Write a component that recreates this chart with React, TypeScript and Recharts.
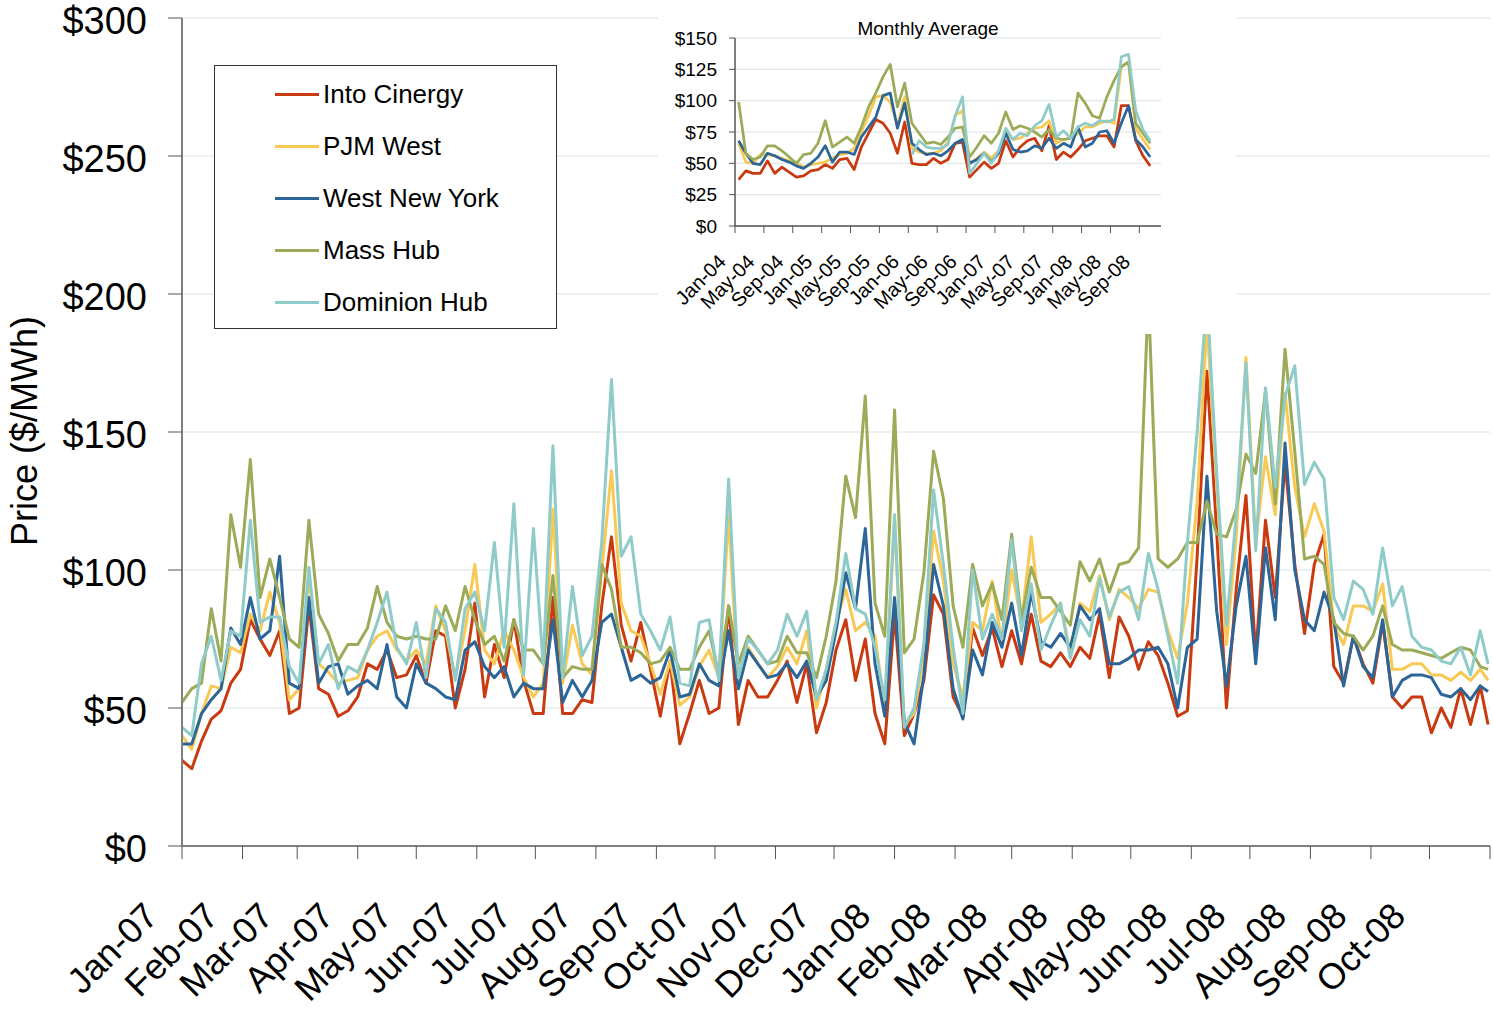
import React from 'react';
import { LineChart, Line, XAxis, YAxis, CartesianGrid } from 'recharts';

const FONT = '"Liberation Sans", Arial, Helvetica, sans-serif';

const seriesNames = ['Into Cinergy', 'PJM West', 'West New York', 'Mass Hub', 'Dominion Hub'];
const seriesKeys = ['cin', 'pjm', 'wny', 'mass', 'dom'];
const seriesColors = ['#C93A10', '#F8C954', '#2C6597', '#9BAB57', '#8FCBC8'];

// daily chart, sampled days since 1-Jan-07
const sampleDays = [0,5,10,15,20,25,30,35,40,45,50,55,60,65,70,75,80,85,90,95,100,105,110,115,120,125,130,135,140,145,150,155,160,165,170,175,180,185,190,195,200,205,210,215,220,225,230,235,240,245,250,255,260,265,270,275,280,285,290,295,300,305,310,315,320,325,330,335,340,345,350,355,360,365,370,375,380,385,390,395,400,405,410,415,420,425,430,435,440,445,450,455,460,465,470,475,480,485,490,495,500,505,510,515,520,525,530,535,540,545,550,555,560,565,570,575,580,585,590,595,600,605,610,615,620,625,630,635,640,645,650,655,660,665,669];

const cinergy = [31,28,38,46,49,59,64,82,75,69,78,48,50,87,57,55,47,49,54,66,64,71,61,62,69,59,78,76,50,64,88,54,73,61,82,60,48,48,90,48,48,53,52,87,112,80,67,81,64,47,67,37,48,60,48,50,87,44,60,54,54,60,67,52,66,41,52,71,82,60,75,48,37,84,40,48,60,91,84,54,47,79,69,79,65,78,66,84,67,65,70,65,72,68,84,61,83,76,64,74,69,59,47,49,105,172,114,50,93,127,69,118,90,139,102,77,102,113,65,59,76,66,59,81,54,50,54,54,41,50,43,57,44,58,44];
const pjmWest = [40,35,48,58,57,72,70,84,78,92,81,53,57,98,66,63,59,60,61,71,76,78,71,67,71,66,87,78,61,78,102,71,66,78,71,61,54,59,122,59,80,66,62,100,136,88,78,76,66,55,67,51,54,65,71,61,120,57,72,66,61,65,72,66,78,50,64,81,93,78,81,76,50,118,44,48,69,114,96,66,54,81,78,96,73,100,81,112,81,84,88,70,88,85,98,82,93,90,86,93,92,78,68,88,125,190,131,73,112,177,110,141,120,164,130,112,124,114,80,73,87,87,85,95,64,64,66,66,62,62,60,63,60,64,60];
const westNewYork = [37,37,48,53,57,79,73,90,75,78,105,59,57,90,59,65,66,55,58,60,57,73,54,50,66,59,57,54,53,71,74,65,61,65,54,59,57,57,82,52,60,54,60,81,84,72,60,62,59,61,71,54,55,66,60,58,78,57,71,66,61,62,66,61,67,54,60,78,99,86,115,66,47,90,45,37,62,102,87,57,46,71,62,81,72,88,69,92,74,72,77,72,87,82,86,66,66,68,71,71,72,66,50,72,75,134,85,58,87,105,66,108,82,146,100,82,78,92,82,58,76,65,61,82,54,60,62,62,61,55,54,57,53,58,56];
const massHub = [52,57,59,86,67,120,101,140,90,104,90,75,72,118,84,77,67,73,73,79,94,81,76,75,76,75,75,87,78,94,82,73,76,67,82,71,71,66,98,61,65,64,64,102,93,72,72,70,66,67,72,64,64,72,78,62,87,66,76,71,66,67,76,70,70,61,76,96,134,119,163,88,76,158,70,75,99,143,126,87,72,102,87,95,82,113,82,101,90,90,85,80,103,96,104,92,102,103,108,200,104,101,104,110,110,125,113,112,122,142,135,165,124,180,143,104,105,102,81,77,76,71,76,87,73,71,71,70,69,68,70,72,71,65,64];
const dominionHub = [43,40,66,76,60,78,76,118,81,83,83,65,59,101,66,73,57,65,63,71,81,92,72,66,81,61,86,81,60,86,92,78,110,72,124,62,115,66,145,61,94,69,76,110,169,105,112,84,78,71,83,59,58,81,82,60,133,61,75,71,66,71,84,76,85,53,64,81,106,86,84,72,53,120,43,50,73,129,102,72,48,100,75,84,75,111,78,95,71,80,88,68,82,76,97,83,92,94,82,106,93,76,59,110,150,200,135,80,120,175,107,166,130,163,174,131,139,133,90,82,96,93,84,108,87,94,76,72,71,67,66,72,62,78,66];

const monthStartDays = [0,31,59,90,120,151,181,212,243,273,304,334,365,396,425,456,486,517,547,578,609,639,670];
const monthLabels = ['Jan-07','Feb-07','Mar-07','Apr-07','May-07','Jun-07','Jul-07','Aug-07','Sep-07','Oct-07','Nov-07','Dec-07','Jan-08','Feb-08','Mar-08','Apr-08','May-08','Jun-08','Jul-08','Aug-08','Sep-08','Oct-08'];
const priceTicks = [0,50,100,150,200,250,300];

// monthly averages, Jan-04 .. Oct-08
const insetCinergy = [37,44,42,42,52,42,47,43,39,40,44,45,49,46,53,54,45,63,74,85,82,74,58,83,50,49,49,54,50,53,66,67,39,45,51,46,50,68,55,63,68,70,60,80,53,59,55,61,68,70,72,72,63,96,96,68,56,48];
const insetPjm = [66,51,50,57,57,56,54,52,50,47,49,50,51,54,57,58,62,75,88,103,104,99,80,103,62,59,58,58,60,67,88,92,50,54,59,54,60,75,69,70,74,78,79,84,66,69,70,74,79,79,82,84,82,127,131,78,69,61];
const insetWestNY = [68,58,50,49,58,56,53,51,48,46,50,55,64,51,59,59,57,71,79,87,104,106,78,98,66,61,57,58,56,60,66,69,50,53,58,51,58,74,61,59,60,64,62,70,62,66,63,79,63,66,75,76,66,82,96,69,63,55];
const insetMass = [99,58,53,55,64,64,60,55,50,57,58,66,84,63,67,71,66,79,95,106,119,129,95,114,82,74,66,67,65,71,78,79,55,63,72,66,74,91,77,80,78,75,71,77,70,69,70,106,98,88,86,103,116,127,131,82,74,66];
const insetDominion = [null,null,null,null,null,null,null,null,null,null,null,null,null,null,null,null,null,null,null,null,null,null,null,null,57,68,63,62,62,65,88,103,42,50,58,50,60,78,69,74,72,80,84,97,71,76,70,79,82,80,84,83,85,135,137,92,77,68];
const insetTickMonths = [0,4,8,12,16,20,24,28,32,36,40,44,48,52,56];
const insetTickLabels = ['Jan-04','May-04','Sep-04','Jan-05','May-05','Sep-05','Jan-06','May-06','Sep-06','Jan-07','May-07','Sep-07','Jan-08','May-08','Sep-08'];
const insetPriceTicks = [0,25,50,75,100,125,150];

const mainRows = sampleDays.map((day, i) => ({
  day,
  cin: cinergy[i],
  pjm: pjmWest[i],
  wny: westNewYork[i],
  mass: massHub[i],
  dom: dominionHub[i],
}));

const insetRows = insetCinergy.map((v, i) => ({
  x: i + 0.5,
  cin: v,
  pjm: insetPjm[i],
  wny: insetWestNY[i],
  mass: insetMass[i],
  dom: insetDominion[i],
}));

const MainXTick = (props: any) => {
  const { x, y, payload } = props;
  const idx = monthStartDays.indexOf(payload.value);
  const label = monthLabels[idx];
  if (!label) return null;
  const ax = x - 22;
  const ay = y + 59;
  return (
    <text x={ax} y={ay} transform={`rotate(-45, ${ax}, ${ay})`} textAnchor="end"
      fontSize={36} fontFamily={FONT} fill="#000">{label}</text>
  );
};

const MainYTick = (props: any) => {
  const { x, y, payload } = props;
  return (
    <text x={x} y={y + 2} dy="0.36em" textAnchor="end" fontSize={38} fontFamily={FONT} fill="#000">
      {`$${payload.value}`}
    </text>
  );
};

const InsetXTick = (props: any) => {
  const { x, y, payload } = props;
  const idx = insetTickMonths.indexOf(payload.value);
  const label = insetTickLabels[idx];
  if (!label) return null;
  const ax = x - 8;
  const ay = y + 30;
  return (
    <text x={ax} y={ay} transform={`rotate(-45, ${ax}, ${ay})`} textAnchor="end"
      fontSize={20} fontFamily={FONT} fill="#000">{label}</text>
  );
};

export default function App() {
  return (
    <div style={{ position: 'relative', width: 1493, height: 1010, background: '#fff', fontFamily: FONT }}>
      <style>{`body{margin:0;background:#fff}`}</style>
      <LineChart width={1493} height={1010} data={mainRows} margin={{ top: 18, right: 3, left: 0, bottom: 24 }}>
        <CartesianGrid vertical={false} stroke="#D8E4E3" />
        <XAxis dataKey="day" type="number" domain={[0, 670]} ticks={monthStartDays} interval={0}
          height={140} tickSize={13} tickMargin={0}
          axisLine={{ stroke: '#808080', strokeWidth: 2 }} tickLine={{ stroke: '#555' }}
          tick={(p: any) => <MainXTick {...p} />} />
        <YAxis type="number" domain={[0, 300]} ticks={priceTicks} interval={0} width={182}
          tickSize={14} tickMargin={21}
          axisLine={{ stroke: '#808080', strokeWidth: 2 }} tickLine={{ stroke: '#555' }}
          tick={(p: any) => <MainYTick {...p} />} />
        {seriesKeys.map((k, i) => (
          <Line key={k} dataKey={k} name={seriesNames[i]} stroke={seriesColors[i]} strokeWidth={3}
            dot={false} activeDot={false} isAnimationActive={false} type="linear" strokeLinejoin="round" />
        ))}
      </LineChart>

      <div style={{
        position: 'absolute', left: 25, top: 431, transform: 'translate(-50%, -50%) rotate(-90deg)',
        fontSize: 36, whiteSpace: 'nowrap', color: '#000',
      }}>Price ($/MWh)</div>

      <div style={{
        position: 'absolute', left: 214, top: 65, width: 341, height: 262, background: '#fff',
        border: '1px solid #333',
      }}>
        {seriesNames.map((n, i) => (
          <div key={n} style={{ position: 'absolute', left: 60, top: 28 + i * 52.2 - 18, height: 36, display: 'flex', alignItems: 'center' }}>
            <div style={{ width: 44, height: 3, background: seriesColors[i], marginRight: 4 }} />
            <span style={{ fontSize: 26, color: '#000', whiteSpace: 'nowrap' }}>{n}</span>
          </div>
        ))}
      </div>

      <div style={{ position: 'absolute', left: 658, top: 0, width: 578, height: 334, background: '#fff' }}>
        <LineChart width={578} height={334} data={insetRows} margin={{ top: 38, right: 75, left: 0, bottom: 0 }}>
          <CartesianGrid vertical={false} stroke="#D8E4E3" />
          <XAxis dataKey="x" type="number" domain={[0, 59]} ticks={insetTickMonths} interval={0}
            height={108} tickSize={7} tickMargin={0}
            axisLine={{ stroke: '#555', strokeWidth: 1.5 }} tickLine={{ stroke: '#555' }}
            tick={(p: any) => <InsetXTick {...p} />} />
          <YAxis type="number" domain={[0, 150]} ticks={insetPriceTicks} interval={0} width={77}
            tickSize={6} tickMargin={12} tickFormatter={(v: number) => `$${v}`}
            axisLine={{ stroke: '#555', strokeWidth: 1.5 }} tickLine={{ stroke: '#555' }}
            tick={{ fontSize: 19, fill: '#000', fontFamily: FONT }} />
          {seriesKeys.map((k, i) => (
            <Line key={k} dataKey={k} name={seriesNames[i]} stroke={seriesColors[i]} strokeWidth={2.75}
              dot={false} activeDot={false} isAnimationActive={false} type="linear" strokeLinejoin="round" />
          ))}
        </LineChart>
        <div style={{ position: 'absolute', left: 120, width: 300, top: 19, textAlign: 'center', fontSize: 19, color: '#000', lineHeight: 1 }}>
          Monthly Average
        </div>
      </div>
    </div>
  );
}
